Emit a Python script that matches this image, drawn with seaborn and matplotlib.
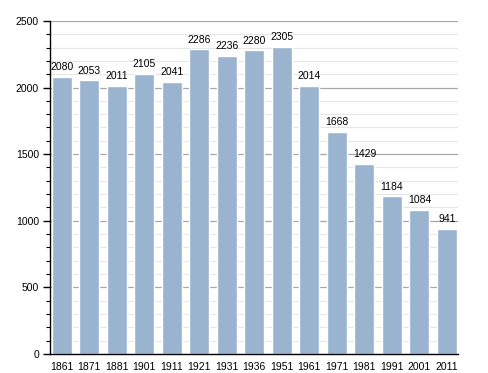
import matplotlib
matplotlib.use("Agg")
import matplotlib.pyplot as plt
import seaborn as sns
import pandas as pd
from matplotlib.ticker import MultipleLocator

years = ["1861", "1871", "1881", "1901", "1911", "1921", "1931", "1936",
         "1951", "1961", "1971", "1981", "1991", "2001", "2011"]
population = [2080, 2053, 2011, 2105, 2041, 2286, 2236, 2280,
              2305, 2014, 1668, 1429, 1184, 1084, 941]

df = pd.DataFrame({"year": years, "pop": population})

sns.set_style("white")
plt.rcParams["font.family"] = ["Liberation Sans", "DejaVu Sans"]
plt.rcParams["text.color"] = "black"
plt.rcParams["xtick.color"] = "black"
plt.rcParams["ytick.color"] = "black"

fig = plt.figure(figsize=(4.88, 3.73), dpi=100)
ax = fig.add_axes([0.1025, 0.051, 0.836, 0.893])

ax.set_ylim(0, 2500)
ax.yaxis.set_major_locator(MultipleLocator(500))
ax.yaxis.set_minor_locator(MultipleLocator(100))
ax.grid(axis="y", which="major", color="#a8a8a8", linewidth=0.9)
ax.grid(axis="y", which="minor", color="#e6e6e6", linewidth=0.8)
ax.set_axisbelow(True)

sns.barplot(data=df, x="year", y="pop", color="#9ab3cf", saturation=1,
            width=0.73, ax=ax)
ax.set_xlim(-0.42, 14.4)

for i, v in enumerate(population):
    ax.text(i, v + 35, str(v), ha="center", va="bottom", fontsize=7.5,
            color="black")

for s in ["top", "right"]:
    ax.spines[s].set_visible(False)
ax.spines["left"].set_color("black")
ax.spines["bottom"].set_color("black")
ax.spines["left"].set_linewidth(1)
ax.spines["bottom"].set_linewidth(1)

ax.tick_params(axis="y", which="major", left=True, length=5, width=1,
               labelsize=7.5, pad=3, colors="black")
ax.tick_params(axis="y", which="minor", left=True, length=3, width=0.8,
               colors="black")
ax.tick_params(axis="x", bottom=False, labelsize=7.5, pad=2,
               labelcolor="black")
ax.set_xlabel("")
ax.set_ylabel("")

fig.savefig("out.png", dpi=100)
